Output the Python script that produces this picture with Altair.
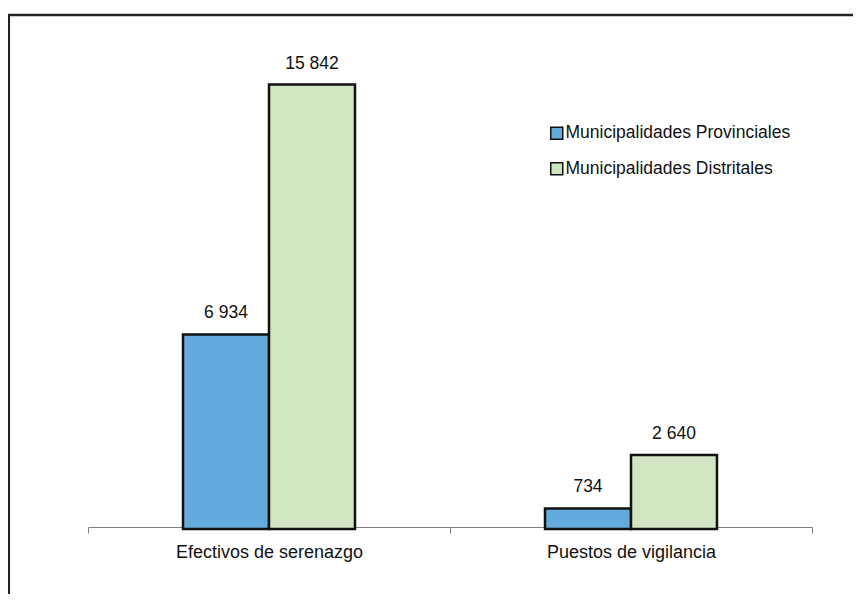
import altair as alt
import pandas as pd

categories = ["Efectivos de serenazgo", "Puestos de vigilancia"]
series_names = ["Municipalidades Provinciales", "Municipalidades Distritales"]
provinciales = [6934, 734]
distritales = [15842, 2640]
colors = ["#64ABDD", "#D1E6C0"]

rows = []
for i, c in enumerate(categories):
    for s, vals in zip(series_names, [provinciales, distritales]):
        rows.append({"cat": c, "serie": s, "valor": vals[i],
                     "etiqueta": f"{vals[i]:,}".replace(",", " ")})
df = pd.DataFrame(rows)

FONT = "Liberation Sans Narrow, Arial Narrow, Liberation Sans, Arial, sans-serif"

# empty slots on both sides of each pair of bars (spacing only)
offset_domain = ["_izq"] + series_names + ["_der"]

x = alt.X("cat:N", sort=categories, title=None,
          scale=alt.Scale(paddingInner=0, paddingOuter=0),
          axis=alt.Axis(labelAngle=0, tickBand="extent", domainColor="#7f7f7f",
                        tickColor="#7f7f7f", tickSize=6, labelFontSize=18,
                        labelFont=FONT, labelColor="#111", labelPadding=10,
                        labelLimit=0, offset=-2, grid=False))
xoff = alt.XOffset("serie:N",
                   scale=alt.Scale(domain=offset_domain, paddingInner=0,
                                   paddingOuter=0.1047))
y = alt.Y("valor:Q", scale=alt.Scale(domain=[0, 18000]), axis=None)

base = alt.Chart(df)
bars = base.mark_bar(stroke="#111", strokeWidth=2.5).encode(
    x=x, xOffset=xoff, y=y,
    color=alt.Color("serie:N", sort=series_names,
                    scale=alt.Scale(domain=series_names, range=colors),
                    legend=alt.Legend(title=None, orient="none", legendX=460,
                                      legendY=100.5, symbolType="square",
                                      symbolSize=144, symbolStrokeColor="#111",
                                      symbolStrokeWidth=1.5, labelFont=FONT,
                                      labelFontSize=17.5, labelColor="#111",
                                      labelOffset=0, labelLimit=0,
                                      rowPadding=16.5, padding=0)))
labels = base.mark_text(dy=-16, baseline="alphabetic", fontSize=17.5, font=FONT,
                        color="#111").encode(x=x, xOffset=xoff, y=y, text="etiqueta:N")

fdf = pd.DataFrame({"k": [0]})
frame_left = alt.Chart(fdf).mark_rule(color="#222", strokeWidth=2.5).encode(
    x=alt.value(-79.2), y=alt.value(-9), y2=alt.value(600))
frame_top = alt.Chart(fdf).mark_rule(color="#222", strokeWidth=2.5).encode(
    x=alt.value(-81), x2=alt.value(800), y=alt.value(-9))

chart = alt.layer(bars, labels, frame_left, frame_top).properties(
    width=724, height=505,
    padding={"left": 80, "top": 16, "right": 41, "bottom": 65},
    autosize="none",
).configure_view(stroke=None)

chart.save("out.html", embed_options={"renderer": "svg", "actions": False})
